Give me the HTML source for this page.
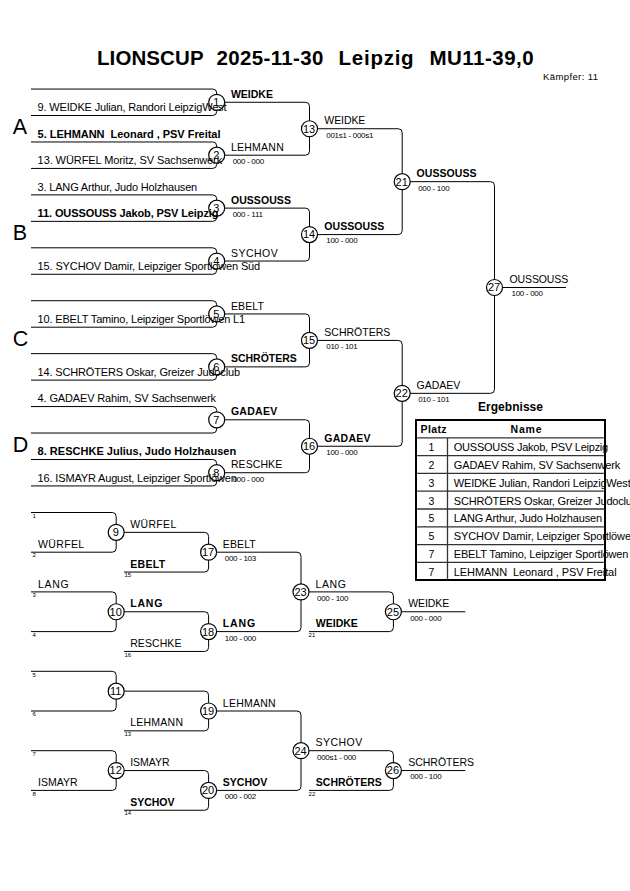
<!DOCTYPE html>
<html><head><meta charset="utf-8"><style>
html,body{margin:0;padding:0;background:#fff;width:630px;height:891px;overflow:hidden}
svg{display:block;font-family:"Liberation Sans",sans-serif} text{white-space:pre}
</style></head><body>
<svg width="630" height="891" viewBox="0 0 630 891">
<g><path d="M31.00,89.05 H212.70 A4.0,4.0 0 0 1 216.70,93.05 V94.28" fill="none" stroke="#000" stroke-width="1"/><path d="M31.00,115.51 H212.70 A4.0,4.0 0 0 0 216.70,111.51 V110.28" fill="none" stroke="#000" stroke-width="1"/><circle cx="216.70" cy="102.28" r="8.0" fill="none" stroke="#000" stroke-width="1.2"/><path d="M31.00,141.97 H212.70 A4.0,4.0 0 0 1 216.70,145.97 V147.20" fill="none" stroke="#000" stroke-width="1"/><path d="M31.00,168.43 H212.70 A4.0,4.0 0 0 0 216.70,164.43 V163.20" fill="none" stroke="#000" stroke-width="1"/><circle cx="216.70" cy="155.20" r="8.0" fill="none" stroke="#000" stroke-width="1.2"/><path d="M31.00,194.89 H212.70 A4.0,4.0 0 0 1 216.70,198.89 V200.12" fill="none" stroke="#000" stroke-width="1"/><path d="M31.00,221.35 H212.70 A4.0,4.0 0 0 0 216.70,217.35 V216.12" fill="none" stroke="#000" stroke-width="1"/><circle cx="216.70" cy="208.12" r="8.0" fill="none" stroke="#000" stroke-width="1.2"/><path d="M31.00,247.81 H212.70 A4.0,4.0 0 0 1 216.70,251.81 V253.04" fill="none" stroke="#000" stroke-width="1"/><path d="M31.00,274.27 H212.70 A4.0,4.0 0 0 0 216.70,270.27 V269.04" fill="none" stroke="#000" stroke-width="1"/><circle cx="216.70" cy="261.04" r="8.0" fill="none" stroke="#000" stroke-width="1.2"/><path d="M31.00,300.73 H212.70 A4.0,4.0 0 0 1 216.70,304.73 V305.96" fill="none" stroke="#000" stroke-width="1"/><path d="M31.00,327.19 H212.70 A4.0,4.0 0 0 0 216.70,323.19 V321.96" fill="none" stroke="#000" stroke-width="1"/><circle cx="216.70" cy="313.96" r="8.0" fill="none" stroke="#000" stroke-width="1.2"/><path d="M31.00,353.65 H212.70 A4.0,4.0 0 0 1 216.70,357.65 V358.88" fill="none" stroke="#000" stroke-width="1"/><path d="M31.00,380.11 H212.70 A4.0,4.0 0 0 0 216.70,376.11 V374.88" fill="none" stroke="#000" stroke-width="1"/><circle cx="216.70" cy="366.88" r="8.0" fill="none" stroke="#000" stroke-width="1.2"/><path d="M31.00,406.57 H212.70 A4.0,4.0 0 0 1 216.70,410.57 V411.80" fill="none" stroke="#000" stroke-width="1"/><path d="M31.00,433.03 H212.70 A4.0,4.0 0 0 0 216.70,429.03 V427.80" fill="none" stroke="#000" stroke-width="1"/><circle cx="216.70" cy="419.80" r="8.0" fill="none" stroke="#000" stroke-width="1.2"/><path d="M31.00,459.49 H212.70 A4.0,4.0 0 0 1 216.70,463.49 V464.72" fill="none" stroke="#000" stroke-width="1"/><path d="M31.00,485.95 H212.70 A4.0,4.0 0 0 0 216.70,481.95 V480.72" fill="none" stroke="#000" stroke-width="1"/><circle cx="216.70" cy="472.72" r="8.0" fill="none" stroke="#000" stroke-width="1.2"/><path d="M224.70,102.28 H305.50 A4.0,4.0 0 0 1 309.50,106.28 V120.74" fill="none" stroke="#000" stroke-width="1"/><path d="M224.70,155.20 H305.50 A4.0,4.0 0 0 0 309.50,151.20 V136.74" fill="none" stroke="#000" stroke-width="1"/><circle cx="309.50" cy="128.74" r="8.0" fill="none" stroke="#000" stroke-width="1.2"/><path d="M224.70,208.12 H305.50 A4.0,4.0 0 0 1 309.50,212.12 V226.58" fill="none" stroke="#000" stroke-width="1"/><path d="M224.70,261.04 H305.50 A4.0,4.0 0 0 0 309.50,257.04 V242.58" fill="none" stroke="#000" stroke-width="1"/><circle cx="309.50" cy="234.58" r="8.0" fill="none" stroke="#000" stroke-width="1.2"/><path d="M224.70,313.96 H305.50 A4.0,4.0 0 0 1 309.50,317.96 V332.42" fill="none" stroke="#000" stroke-width="1"/><path d="M224.70,366.88 H305.50 A4.0,4.0 0 0 0 309.50,362.88 V348.42" fill="none" stroke="#000" stroke-width="1"/><circle cx="309.50" cy="340.42" r="8.0" fill="none" stroke="#000" stroke-width="1.2"/><path d="M224.70,419.80 H305.50 A4.0,4.0 0 0 1 309.50,423.80 V438.26" fill="none" stroke="#000" stroke-width="1"/><path d="M224.70,472.72 H305.50 A4.0,4.0 0 0 0 309.50,468.72 V454.26" fill="none" stroke="#000" stroke-width="1"/><circle cx="309.50" cy="446.26" r="8.0" fill="none" stroke="#000" stroke-width="1.2"/><path d="M317.50,128.74 H398.20 A4.0,4.0 0 0 1 402.20,132.74 V173.66" fill="none" stroke="#000" stroke-width="1"/><path d="M317.50,234.58 H398.20 A4.0,4.0 0 0 0 402.20,230.58 V189.66" fill="none" stroke="#000" stroke-width="1"/><circle cx="402.20" cy="181.66" r="8.0" fill="none" stroke="#000" stroke-width="1.2"/><path d="M317.50,340.42 H398.20 A4.0,4.0 0 0 1 402.20,344.42 V385.34" fill="none" stroke="#000" stroke-width="1"/><path d="M317.50,446.26 H398.20 A4.0,4.0 0 0 0 402.20,442.26 V401.34" fill="none" stroke="#000" stroke-width="1"/><circle cx="402.20" cy="393.34" r="8.0" fill="none" stroke="#000" stroke-width="1.2"/><path d="M410.20,181.66 H490.50 A4.0,4.0 0 0 1 494.50,185.66 V279.50" fill="none" stroke="#000" stroke-width="1"/><path d="M410.20,393.34 H490.50 A4.0,4.0 0 0 0 494.50,389.34 V295.50" fill="none" stroke="#000" stroke-width="1"/><circle cx="494.50" cy="287.50" r="8.0" fill="none" stroke="#000" stroke-width="1.2"/><line x1="502.50" y1="287.50" x2="566.00" y2="287.50" stroke="#000" stroke-width="1"/><path d="M31.00,512.50 H112.20 A4.0,4.0 0 0 1 116.20,516.50 V524.35" fill="none" stroke="#000" stroke-width="1"/><path d="M31.00,552.20 H112.20 A4.0,4.0 0 0 0 116.20,548.20 V540.35" fill="none" stroke="#000" stroke-width="1"/><circle cx="116.20" cy="532.35" r="8.0" fill="none" stroke="#000" stroke-width="1.2"/><path d="M31.00,591.90 H112.20 A4.0,4.0 0 0 1 116.20,595.90 V603.75" fill="none" stroke="#000" stroke-width="1"/><path d="M31.00,631.60 H112.20 A4.0,4.0 0 0 0 116.20,627.60 V619.75" fill="none" stroke="#000" stroke-width="1"/><circle cx="116.20" cy="611.75" r="8.0" fill="none" stroke="#000" stroke-width="1.2"/><path d="M31.00,671.30 H112.20 A4.0,4.0 0 0 1 116.20,675.30 V683.15" fill="none" stroke="#000" stroke-width="1"/><path d="M31.00,711.00 H112.20 A4.0,4.0 0 0 0 116.20,707.00 V699.15" fill="none" stroke="#000" stroke-width="1"/><circle cx="116.20" cy="691.15" r="8.0" fill="none" stroke="#000" stroke-width="1.2"/><path d="M31.00,750.70 H112.20 A4.0,4.0 0 0 1 116.20,754.70 V762.55" fill="none" stroke="#000" stroke-width="1"/><path d="M31.00,790.40 H112.20 A4.0,4.0 0 0 0 116.20,786.40 V778.55" fill="none" stroke="#000" stroke-width="1"/><circle cx="116.20" cy="770.55" r="8.0" fill="none" stroke="#000" stroke-width="1.2"/><path d="M124.20,532.35 H204.60 A4.0,4.0 0 0 1 208.60,536.35 V544.20" fill="none" stroke="#000" stroke-width="1"/><path d="M124.00,572.05 H204.60 A4.0,4.0 0 0 0 208.60,568.05 V560.20" fill="none" stroke="#000" stroke-width="1"/><circle cx="208.60" cy="552.20" r="8.0" fill="none" stroke="#000" stroke-width="1.2"/><path d="M124.20,611.75 H204.60 A4.0,4.0 0 0 1 208.60,615.75 V623.60" fill="none" stroke="#000" stroke-width="1"/><path d="M124.00,651.45 H204.60 A4.0,4.0 0 0 0 208.60,647.45 V639.60" fill="none" stroke="#000" stroke-width="1"/><circle cx="208.60" cy="631.60" r="8.0" fill="none" stroke="#000" stroke-width="1.2"/><path d="M124.20,691.15 H204.60 A4.0,4.0 0 0 1 208.60,695.15 V703.00" fill="none" stroke="#000" stroke-width="1"/><path d="M124.00,730.85 H204.60 A4.0,4.0 0 0 0 208.60,726.85 V719.00" fill="none" stroke="#000" stroke-width="1"/><circle cx="208.60" cy="711.00" r="8.0" fill="none" stroke="#000" stroke-width="1.2"/><path d="M124.20,770.55 H204.60 A4.0,4.0 0 0 1 208.60,774.55 V782.40" fill="none" stroke="#000" stroke-width="1"/><path d="M124.00,810.25 H204.60 A4.0,4.0 0 0 0 208.60,806.25 V798.40" fill="none" stroke="#000" stroke-width="1"/><circle cx="208.60" cy="790.40" r="8.0" fill="none" stroke="#000" stroke-width="1.2"/><path d="M216.60,552.20 H297.00 A4.0,4.0 0 0 1 301.00,556.20 V583.90" fill="none" stroke="#000" stroke-width="1"/><path d="M216.60,631.60 H297.00 A4.0,4.0 0 0 0 301.00,627.60 V599.90" fill="none" stroke="#000" stroke-width="1"/><circle cx="301.00" cy="591.90" r="8.0" fill="none" stroke="#000" stroke-width="1.2"/><path d="M216.60,711.00 H297.00 A4.0,4.0 0 0 1 301.00,715.00 V742.70" fill="none" stroke="#000" stroke-width="1"/><path d="M216.60,790.40 H297.00 A4.0,4.0 0 0 0 301.00,786.40 V758.70" fill="none" stroke="#000" stroke-width="1"/><circle cx="301.00" cy="750.70" r="8.0" fill="none" stroke="#000" stroke-width="1.2"/><path d="M309.00,591.90 H389.40 A4.0,4.0 0 0 1 393.40,595.90 V603.75" fill="none" stroke="#000" stroke-width="1"/><path d="M309.00,631.60 H389.40 A4.0,4.0 0 0 0 393.40,627.60 V619.75" fill="none" stroke="#000" stroke-width="1"/><circle cx="393.40" cy="611.75" r="8.0" fill="none" stroke="#000" stroke-width="1.2"/><line x1="401.40" y1="611.75" x2="465.30" y2="611.75" stroke="#000" stroke-width="1"/><path d="M309.00,750.70 H389.40 A4.0,4.0 0 0 1 393.40,754.70 V762.55" fill="none" stroke="#000" stroke-width="1"/><path d="M309.00,790.40 H389.40 A4.0,4.0 0 0 0 393.40,786.40 V778.55" fill="none" stroke="#000" stroke-width="1"/><circle cx="393.40" cy="770.55" r="8.0" fill="none" stroke="#000" stroke-width="1.2"/><line x1="401.40" y1="770.55" x2="465.30" y2="770.55" stroke="#000" stroke-width="1"/><rect x="416" y="420" width="189" height="160" fill="none" stroke="#000" stroke-width="2"/><line x1="417.20" y1="437.90" x2="603.80" y2="437.90" stroke="#333" stroke-width="1.3"/><line x1="417.20" y1="455.60" x2="603.80" y2="455.60" stroke="#333" stroke-width="1.3"/><line x1="417.20" y1="473.40" x2="603.80" y2="473.40" stroke="#333" stroke-width="1.3"/><line x1="417.20" y1="491.20" x2="603.80" y2="491.20" stroke="#333" stroke-width="1.3"/><line x1="417.20" y1="509.00" x2="603.80" y2="509.00" stroke="#333" stroke-width="1.3"/><line x1="417.20" y1="526.80" x2="603.80" y2="526.80" stroke="#333" stroke-width="1.3"/><line x1="417.20" y1="544.60" x2="603.80" y2="544.60" stroke="#333" stroke-width="1.3"/><line x1="417.20" y1="562.40" x2="603.80" y2="562.40" stroke="#333" stroke-width="1.3"/><line x1="447.50" y1="437.90" x2="447.50" y2="578.80" stroke="#333" stroke-width="1.3"/></g>
<g><text x="37.60" y="111.21" font-size="11" textLength="188.9" lengthAdjust="spacing">9. WEIDKE Julian, Randori LeipzigWest</text><text x="37.60" y="137.67" font-size="11" font-weight="bold" textLength="182.9" lengthAdjust="spacing">5. LEHMANN  Leonard , PSV Freital</text><text x="37.60" y="164.13" font-size="11" textLength="184.6" lengthAdjust="spacing">13. WÜRFEL Moritz, SV Sachsenwerk</text><text x="37.60" y="190.59" font-size="11" textLength="159.6" lengthAdjust="spacing">3. LANG Arthur, Judo Holzhausen</text><text x="37.60" y="217.05" font-size="11" font-weight="bold" textLength="180.9" lengthAdjust="spacing">11. OUSSOUSS Jakob, PSV Leipzig</text><text x="37.60" y="269.97" font-size="11" textLength="222.6" lengthAdjust="spacing">15. SYCHOV Damir, Leipziger Sportlöwen Süd</text><text x="37.60" y="322.89" font-size="11" textLength="207.4" lengthAdjust="spacing">10. EBELT Tamino, Leipziger Sportlöwen L1</text><text x="37.60" y="375.81" font-size="11" textLength="202.4" lengthAdjust="spacing">14. SCHRÖTERS Oskar, Greizer Judoclub</text><text x="37.60" y="402.27" font-size="11" textLength="178.4" lengthAdjust="spacing">4. GADAEV Rahim, SV Sachsenwerk</text><text x="37.60" y="455.19" font-size="11" font-weight="bold" textLength="198.6" lengthAdjust="spacing">8. RESCHKE Julius, Judo Holzhausen</text><text x="37.60" y="481.65" font-size="11" textLength="199.2" lengthAdjust="spacing">16. ISMAYR August, Leipziger Sportlöwen</text><text x="216.20" y="106.18" text-anchor="middle" font-size="11">1</text><text x="216.20" y="159.10" text-anchor="middle" font-size="11">2</text><text x="216.20" y="212.02" text-anchor="middle" font-size="11">3</text><text x="216.20" y="264.94" text-anchor="middle" font-size="11">4</text><text x="216.20" y="317.86" text-anchor="middle" font-size="11">5</text><text x="216.20" y="370.78" text-anchor="middle" font-size="11">6</text><text x="216.20" y="423.70" text-anchor="middle" font-size="11">7</text><text x="216.20" y="476.62" text-anchor="middle" font-size="11">8</text><text x="230.90" y="97.88" font-size="10.5" font-weight="bold">WEIDKE</text><text x="230.90" y="150.80" font-size="10.5" letter-spacing="0.25">LEHMANN</text><text x="232.70" y="164.10" font-size="8" letter-spacing="-0.3">000 - 000</text><text x="230.90" y="203.72" font-size="10.5" font-weight="bold" letter-spacing="0.071">OUSSOUSS</text><text x="232.70" y="217.02" font-size="8" letter-spacing="-0.3">000 - 111</text><text x="230.90" y="256.64" font-size="10.5" letter-spacing="0.5">SYCHOV</text><text x="230.90" y="309.56" font-size="10.5" letter-spacing="0.125">EBELT</text><text x="230.90" y="362.48" font-size="10.5" font-weight="bold">SCHRÖTERS</text><text x="230.90" y="415.40" font-size="10.5" font-weight="bold" letter-spacing="0.28">GADAEV</text><text x="230.90" y="468.32" font-size="10.5" letter-spacing="0.083">RESCHKE</text><text x="232.70" y="481.62" font-size="8" letter-spacing="-0.3">000 - 000</text><text x="309.00" y="132.64" text-anchor="middle" font-size="11">13</text><text x="309.00" y="238.48" text-anchor="middle" font-size="11">14</text><text x="309.00" y="344.32" text-anchor="middle" font-size="11">15</text><text x="309.00" y="450.16" text-anchor="middle" font-size="11">16</text><text x="324.30" y="124.34" font-size="10.5" letter-spacing="-0.08">WEIDKE</text><text x="326.30" y="137.64" font-size="8" letter-spacing="-0.3">001s1 - 000s1</text><text x="324.30" y="230.18" font-size="10.5" font-weight="bold" letter-spacing="0.071">OUSSOUSS</text><text x="326.30" y="243.48" font-size="8" letter-spacing="-0.3">100 - 000</text><text x="324.30" y="336.02" font-size="10.5">SCHRÖTERS</text><text x="326.30" y="349.32" font-size="8" letter-spacing="-0.3">010 - 101</text><text x="324.30" y="441.86" font-size="10.5" font-weight="bold" letter-spacing="0.28">GADAEV</text><text x="326.30" y="455.16" font-size="8" letter-spacing="-0.3">100 - 000</text><text x="401.70" y="185.56" text-anchor="middle" font-size="11">21</text><text x="401.70" y="397.24" text-anchor="middle" font-size="11">22</text><text x="416.50" y="177.26" font-size="10.5" font-weight="bold" letter-spacing="0.071">OUSSOUSS</text><text x="418.20" y="190.56" font-size="8" letter-spacing="-0.3">000 - 100</text><text x="416.50" y="388.94" font-size="10.5">GADAEV</text><text x="418.20" y="402.24" font-size="8" letter-spacing="-0.3">010 - 101</text><text x="494.00" y="291.40" text-anchor="middle" font-size="11">27</text><text x="509.50" y="283.10" font-size="10.5" letter-spacing="-0.114">OUSSOUSS</text><text x="511.50" y="296.40" font-size="8" letter-spacing="-0.3">100 - 000</text><text x="12.80" y="133.80" font-size="21.5">A</text><text x="12.80" y="239.80" font-size="21.5">B</text><text x="12.80" y="345.80" font-size="21.5">C</text><text x="12.80" y="451.80" font-size="21.5">D</text><text x="32.40" y="517.70" font-size="6">1</text><text x="38.00" y="547.80" font-size="10.5" letter-spacing="0.36">WÜRFEL</text><text x="32.40" y="557.40" font-size="6">2</text><text x="38.00" y="587.50" font-size="10.5" letter-spacing="0.667">LANG</text><text x="32.40" y="597.10" font-size="6">3</text><text x="32.40" y="636.80" font-size="6">4</text><text x="32.40" y="676.50" font-size="6">5</text><text x="32.40" y="716.20" font-size="6">6</text><text x="32.40" y="755.90" font-size="6">7</text><text x="38.00" y="786.00" font-size="10.5">ISMAYR</text><text x="32.40" y="795.60" font-size="6">8</text><text x="115.70" y="536.25" text-anchor="middle" font-size="11">9</text><text x="115.70" y="615.65" text-anchor="middle" font-size="11">10</text><text x="115.70" y="695.05" text-anchor="middle" font-size="11">11</text><text x="115.70" y="774.45" text-anchor="middle" font-size="11">12</text><text x="130.20" y="527.95" font-size="10.5" letter-spacing="0.36">WÜRFEL</text><text x="130.20" y="607.35" font-size="10.5" font-weight="bold" letter-spacing="0.833">LANG</text><text x="130.20" y="766.15" font-size="10.5">ISMAYR</text><text x="208.10" y="556.10" text-anchor="middle" font-size="11">17</text><text x="130.20" y="567.65" font-size="10.5" font-weight="bold" letter-spacing="0.325">EBELT</text><text x="124.50" y="577.25" font-size="6">15</text><text x="208.10" y="635.50" text-anchor="middle" font-size="11">18</text><text x="130.20" y="647.05" font-size="10.5" letter-spacing="0.083">RESCHKE</text><text x="124.50" y="656.65" font-size="6">16</text><text x="208.10" y="714.90" text-anchor="middle" font-size="11">19</text><text x="130.20" y="726.45" font-size="10.5" letter-spacing="0.25">LEHMANN</text><text x="124.50" y="736.05" font-size="6">13</text><text x="208.10" y="794.30" text-anchor="middle" font-size="11">20</text><text x="130.20" y="805.85" font-size="10.5" font-weight="bold">SYCHOV</text><text x="124.50" y="815.45" font-size="6">14</text><text x="222.80" y="547.80" font-size="10.5" letter-spacing="0.125">EBELT</text><text x="224.80" y="561.10" font-size="8" letter-spacing="-0.3">000 - 103</text><text x="222.80" y="627.20" font-size="10.5" font-weight="bold" letter-spacing="0.833">LANG</text><text x="224.80" y="640.50" font-size="8" letter-spacing="-0.3">100 - 000</text><text x="222.80" y="706.60" font-size="10.5" letter-spacing="0.25">LEHMANN</text><text x="222.80" y="786.00" font-size="10.5" font-weight="bold">SYCHOV</text><text x="224.80" y="799.30" font-size="8" letter-spacing="-0.3">000 - 002</text><text x="300.50" y="595.80" text-anchor="middle" font-size="11">23</text><text x="300.50" y="754.60" text-anchor="middle" font-size="11">24</text><text x="315.40" y="587.50" font-size="10.5" letter-spacing="0.667">LANG</text><text x="317.00" y="600.80" font-size="8" letter-spacing="-0.3">000 - 100</text><text x="315.40" y="746.30" font-size="10.5" letter-spacing="0.5">SYCHOV</text><text x="317.00" y="759.60" font-size="8" letter-spacing="-0.3">000s1 - 000</text><text x="392.90" y="615.65" text-anchor="middle" font-size="11">25</text><text x="315.80" y="627.20" font-size="10.5" font-weight="bold">WEIDKE</text><text x="308.60" y="636.80" font-size="6">21</text><text x="408.20" y="607.35" font-size="10.5" letter-spacing="-0.08">WEIDKE</text><text x="410.20" y="620.65" font-size="8" letter-spacing="-0.3">000 - 000</text><text x="392.90" y="774.45" text-anchor="middle" font-size="11">26</text><text x="315.80" y="786.00" font-size="10.5" font-weight="bold">SCHRÖTERS</text><text x="308.60" y="795.60" font-size="6">22</text><text x="408.20" y="766.15" font-size="10.5">SCHRÖTERS</text><text x="410.20" y="779.45" font-size="8" letter-spacing="-0.3">000 - 100</text><text x="478.00" y="410.90" font-size="12" font-weight="bold" textLength="65.0" lengthAdjust="spacing">Ergebnisse</text><text x="420.50" y="432.80" font-size="10.5" font-weight="bold" textLength="26.0" lengthAdjust="spacing">Platz</text><text x="510.60" y="432.80" font-size="10.5" font-weight="bold" textLength="31.0" lengthAdjust="spacing">Name</text><text x="431.50" y="451.10" font-size="10.5" text-anchor="middle">1</text><text x="453.80" y="451.10" font-size="11" textLength="154.4" lengthAdjust="spacing">OUSSOUSS Jakob, PSV Leipzig</text><text x="431.50" y="468.90" font-size="10.5" text-anchor="middle">2</text><text x="453.80" y="468.90" font-size="11" textLength="166.4" lengthAdjust="spacing">GADAEV Rahim, SV Sachsenwerk</text><text x="431.50" y="486.70" font-size="10.5" text-anchor="middle">3</text><text x="453.80" y="486.70" font-size="11" textLength="176.9" lengthAdjust="spacing">WEIDKE Julian, Randori LeipzigWest</text><text x="431.50" y="504.50" font-size="10.5" text-anchor="middle">3</text><text x="453.80" y="504.50" font-size="11" textLength="184.1" lengthAdjust="spacing">SCHRÖTERS Oskar, Greizer Judoclub</text><text x="431.50" y="522.30" font-size="10.5" text-anchor="middle">5</text><text x="453.80" y="522.30" font-size="11" textLength="148.3" lengthAdjust="spacing">LANG Arthur, Judo Holzhausen</text><text x="431.50" y="540.10" font-size="10.5" text-anchor="middle">5</text><text x="453.80" y="540.10" font-size="11" textLength="183.2" lengthAdjust="spacing">SYCHOV Damir, Leipziger Sportlöwen</text><text x="431.50" y="557.90" font-size="10.5" text-anchor="middle">7</text><text x="453.80" y="557.90" font-size="11" textLength="174.6" lengthAdjust="spacing">EBELT Tamino, Leipziger Sportlöwen</text><text x="431.50" y="575.70" font-size="10.5" text-anchor="middle">7</text><text x="453.80" y="575.70" font-size="11" textLength="162.8" lengthAdjust="spacing">LEHMANN  Leonard , PSV Freital</text><text x="97.00" y="64.60" font-size="20.5" font-weight="bold" textLength="106.6" lengthAdjust="spacing">LIONSCUP</text><text x="216.60" y="64.60" font-size="20.5" font-weight="bold" textLength="106.8" lengthAdjust="spacing">2025-11-30</text><text x="338.60" y="64.60" font-size="20.5" font-weight="bold" textLength="75.0" lengthAdjust="spacing">Leipzig</text><text x="429.50" y="64.60" font-size="20.5" font-weight="bold" textLength="104.1" lengthAdjust="spacing">MU11-39,0</text><text x="543.00" y="79.80" font-size="9.5" textLength="55.0" lengthAdjust="spacing">Kämpfer: 11</text></g>
</svg></body></html>
